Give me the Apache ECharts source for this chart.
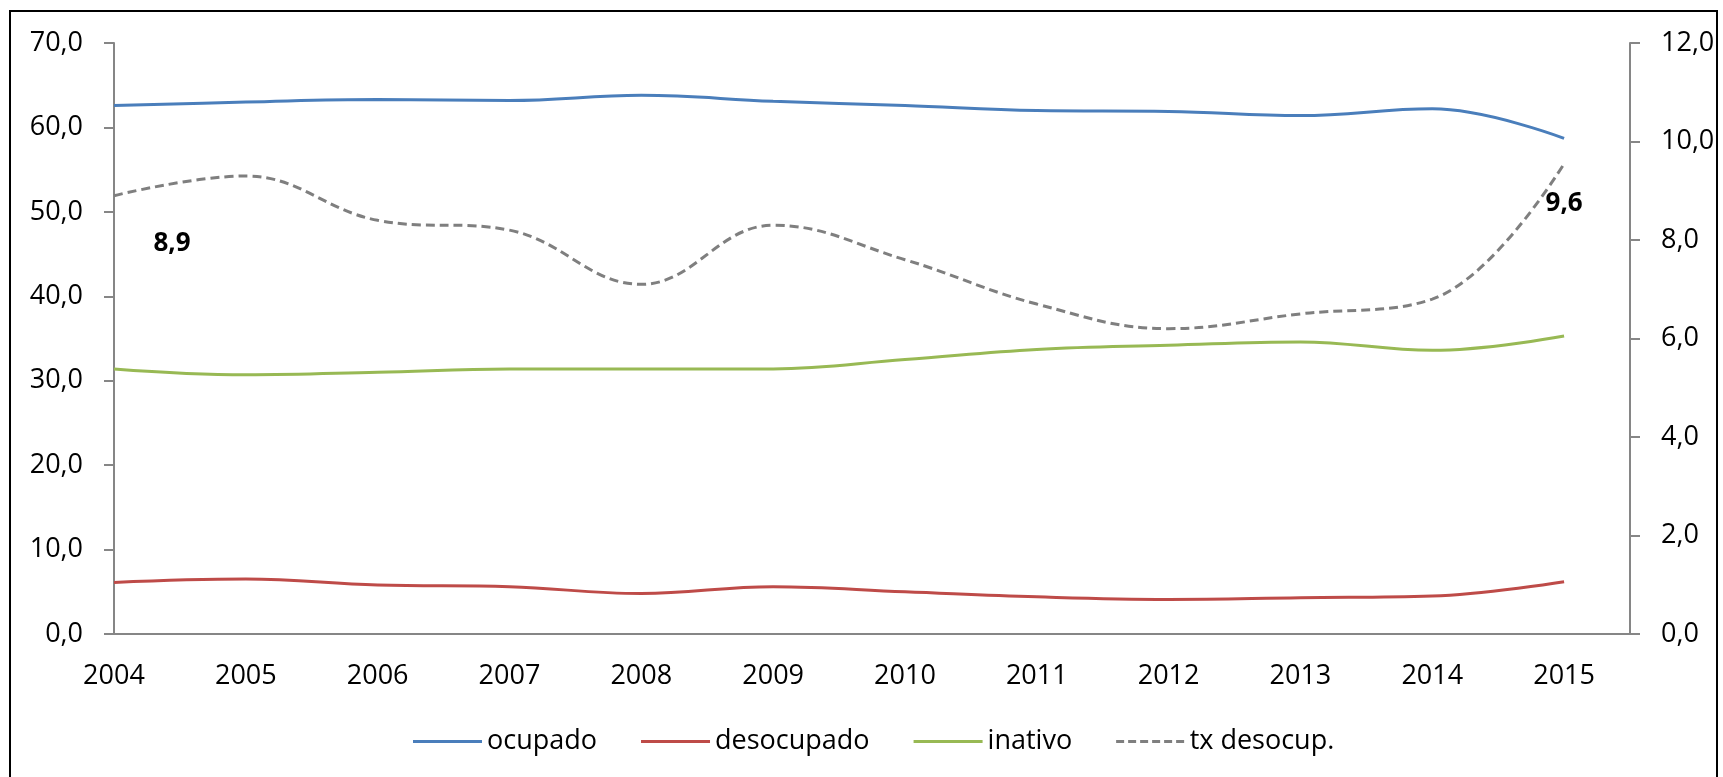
<!DOCTYPE html>
<html>
<head>
<meta charset="utf-8">
<script src="https://cdn.jsdelivr.net/npm/echarts@6/dist/echarts.min.js"></script>
<style>
  html, body { margin: 0; padding: 0; background: #fff; }
  #frame { position: absolute; left: 9px; top: 10px; width: 1709px; height: 800px;
    border: 2px solid #000; border-bottom: none; box-sizing: border-box; }
  #chart { position: absolute; left: 0; top: 0; width: 1723px; height: 777px; }
</style>
</head>
<body>
<div id="frame"></div>
<div id="chart"></div>
<script>
const years = [2004, 2005, 2006, 2007, 2008, 2009, 2010, 2011, 2012, 2013, 2014, 2015]
const ocupado = [62.6, 63.0, 63.3, 63.2, 63.8, 63.1, 62.6, 62.0, 61.9, 61.4, 62.2, 58.7]
const desocupado = [6.1, 6.5, 5.8, 5.6, 4.8, 5.6, 5.0, 4.4, 4.1, 4.3, 4.5, 6.2]
const inativo = [31.4, 30.7, 31.0, 31.4, 31.4, 31.4, 32.5, 33.7, 34.2, 34.6, 33.6, 35.3]
const txDesocup = [8.9, 9.3, 8.4, 8.2, 7.1, 8.3, 7.6, 6.7, 6.2, 6.5, 6.8, 9.55]
// points of tx desocup. that carry a value label
const labelled = [0, 11]

const fmt = v => v.toFixed(1).replace('.', ',')
const pairs = arr => arr.map((v, i) => [years[i], v])

const FONT = '"Open Sans", sans-serif'
const axisGray = '#868686'
const dashIcon = 'path://M0,0H8V3H0Z M12,0H20V3H12Z M24,0H32V3H24Z M36,0H44V3H36Z M48,0H56V3H48Z M60,0H68V3H60Z'

const chart = echarts.init(document.getElementById('chart'))

const lineSeries = (name, data, color) => ({
  name, type: 'line', data: pairs(data), smooth: 0.4,
  symbol: 'none', lineStyle: { color, width: 3 }, itemStyle: { color },
  yAxisIndex: 0, z: 3,
})

const yAxisBase = {
  type: 'value',
  axisLine: { show: true, lineStyle: { color: axisGray, width: 2 } },
  axisTick: { show: true, length: 10, lineStyle: { color: axisGray, width: 2 } },
  splitLine: { show: false },
  axisLabel: { color: '#000', fontFamily: FONT, fontSize: 27, margin: 31, formatter: fmt }
}

chart.setOption({
  animation: false,
  grid: { left: 114, right: 93, top: 43, bottom: 143 },
  xAxis: {
    type: 'value', min: 2004, max: 2015.5, interval: 1,
    axisLine: { lineStyle: { color: axisGray, width: 2 } },
    axisTick: { show: false },
    splitLine: { show: false },
    axisLabel: {
      color: '#000', fontFamily: FONT, fontSize: 27, margin: 29,
      showMaxLabel: false,
      formatter: v => Number.isInteger(v) ? String(v) : ''
    }
  },
  yAxis: [
    Object.assign({}, yAxisBase, { min: 0, max: 70, interval: 10 }),
    Object.assign({}, yAxisBase, { min: 0, max: 12, interval: 2, position: 'right' })
  ],
  legend: {
    left: 408, top: 723,
    itemWidth: 69, itemHeight: 3, itemGap: 44,
    textStyle: { color: '#000', fontFamily: FONT, fontSize: 27 },
    data: [
      { name: 'ocupado', icon: 'rect' },
      { name: 'desocupado', icon: 'rect' },
      { name: 'inativo', icon: 'rect' },
      { name: 'tx desocup.', icon: dashIcon }
    ]
  },
  series: [
    lineSeries('ocupado', ocupado, '#4A7EBB'),
    lineSeries('desocupado', desocupado, '#BE4B48'),
    lineSeries('inativo', inativo, '#98B954'),
    {
      name: 'tx desocup.', type: 'line', yAxisIndex: 1, smooth: 0.4,
      symbol: 'circle', symbolSize: 0, showSymbol: true,
      lineStyle: { color: '#7F7F7F', width: 3, type: [9, 5] },
      itemStyle: { color: '#7F7F7F' },
      data: txDesocup.map((v, i) => {
        const item = { value: [years[i], v] }
        if (labelled.includes(i)) {
          item.label = {
            show: true, position: 'inside',
            offset: i === 0 ? [58, 48] : [0, 40],
            color: '#000', fontFamily: FONT, fontSize: 26, fontWeight: 'bold',
            formatter: p => fmt(p.value[1])
          }
        }
        return item
      })
    }
  ]
})
</script>
</body>
</html>
